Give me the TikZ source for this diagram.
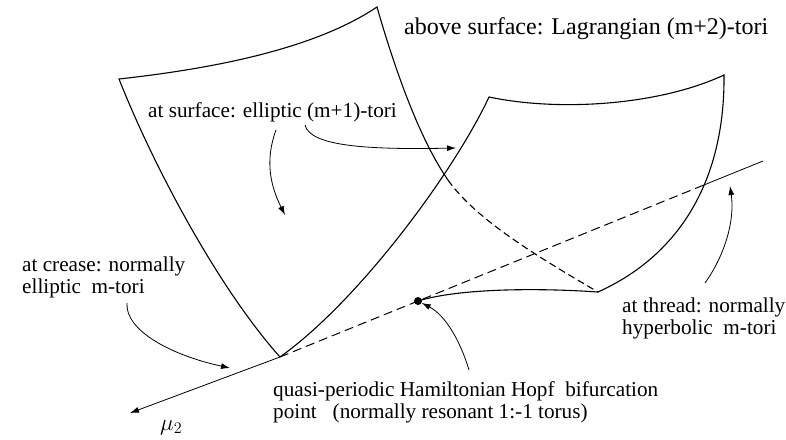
\RequirePackage{fix-cm}
\documentclass[tikz,border=0pt]{standalone}
\usepackage{fontspec}
\setmainfont{Liberation Serif}
\usepackage{tikz}
\usetikzlibrary{arrows.meta,calc}

\begin{document}
\begin{tikzpicture}[x=1pt,y=-1pt,>={Latex[length=9pt,width=6pt]},
  sheet/.style={line width=1.1pt},
  pointer/.style={->,line width=0.8pt},
  lbl/.style={font=\fontsize{21.2}{22}\selectfont,inner sep=0pt,anchor=base west,align=left}]
\useasboundingbox (0,0) rectangle (786,439);
% corners of the two sheets
\coordinate (L1) at (119,79);
\coordinate (L2) at (377,7);
\coordinate (R1) at (489,97);
\coordinate (R2) at (724,75);
\coordinate (B) at (598,292);
\coordinate (X) at (448,180);
\coordinate (C) at (280,357);
\coordinate (T) at (763,161);
\coordinate (TX) at ($(C)!0.8758!(T)$);
\coordinate (A) at (130,413);
% left sheet
\draw[sheet] (C) .. controls (220,290) and (155,170) .. (L1)
  .. controls (200,70) and (310,52) .. (L2)
  .. controls (395,70) and (420,140) .. (X);
\draw[sheet,dashed,dash pattern=on 7pt off 4pt] (X) .. controls (476,220) and (540,258) .. (B);
% right sheet
\draw[sheet] (C) .. controls (360,300) and (455,170) .. (R1)
  .. controls (560,112) and (660,105) .. (R2)
  .. controls (725,180) and (680,255) .. (B);
\draw[sheet] (B) .. controls (540,288) and (460,288) .. (418,301);
% thread and crease
\draw[line width=1pt,dashed,dash pattern=on 9pt off 5pt] (C) -- (TX);
\draw[line width=0.8pt] (TX) -- (T);
\draw[pointer] (C) -- (A);
\node[fill,circle,inner sep=0pt,minimum size=8pt] (hopf) at (418,301) {};
\node[inner sep=0pt,anchor=base west,font=\fontsize{23}{24}\selectfont] (mu) at (160,430) {$\mu_2$};
% labels (base = last line)
\node[lbl,font=\fontsize{24}{26}\selectfont] (above) at (404,34) {above surface: Lagrangian (m+2)-tori};
\node[lbl] (surf) at (148,117) {at surface: elliptic (m+1)-tori};
\node[lbl] (crease) at (22,293) {at crease: normally\\elliptic~ m-tori};
\node[lbl] (thread) at (622,334) {at thread: normally\\hyperbolic~ m-tori};
\node[lbl] (qp) at (273,418) {quasi-periodic Hamiltonian Hopf~ bifurcation\\point~~ (normally resonant 1:-1 torus)};
% pointers
\draw[pointer] (276,130) .. controls (265,160) and (270,185) .. (285,215);
\draw[pointer] (305,125) .. controls (310,145) and (360,150) .. (456,148);
\draw[pointer] (127,303) .. controls (125,330) and (170,355) .. (230,368);
\draw[pointer] (469,370) .. controls (460,340) and (445,315) .. (hopf);
\draw[pointer] (705,283) .. controls (725,255) and (735,220) .. (730,186);
\end{tikzpicture}
\end{document}
